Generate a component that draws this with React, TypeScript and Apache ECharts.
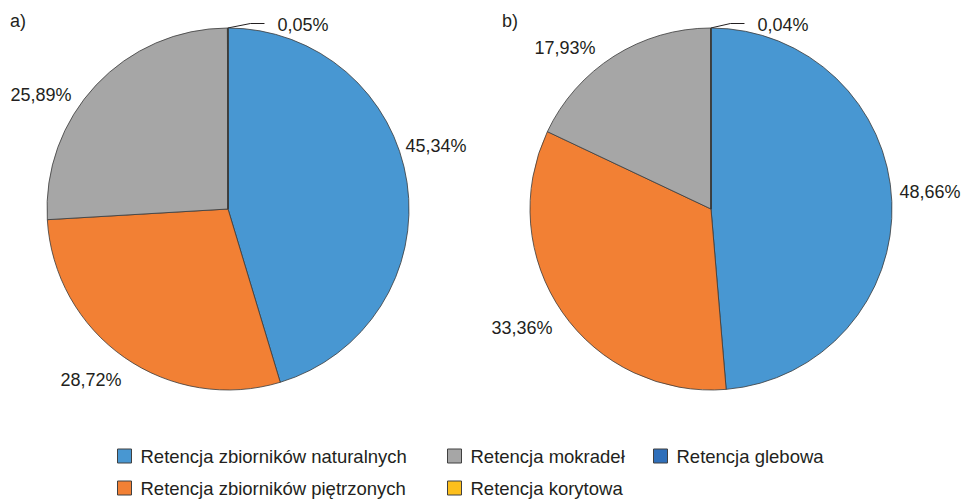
import React, { useEffect, useRef } from "react";
import * as echarts from "echarts";

const CATEGORIES = [
  "Retencja zbiorników naturalnych",
  "Retencja zbiorników piętrzonych",
  "Retencja mokradeł",
  "Retencja korytowa",
  "Retencja glebowa",
];
const VALUES_A = [45.34, 28.72, 25.89, 0.05, 0];
const VALUES_B = [48.66, 33.36, 17.93, 0.04, 0];
const PANEL_LABELS = ["a)", "b)"];
const COLORS = ["#4897d2", "#f28034", "#a6a6a6", "#fdbf1c", "#2f6fba"];

// legend columns (indexes into CATEGORIES)
const LEGEND_COLUMNS = [[0, 1], [2, 3], [4]];
const LEGEND_LEFT = [117, 447, 653];

// label centres (layout)
const LABEL_POS_A: (number[] | null)[] = [[436, 146], [91, 380], [41, 95], [303, 24.5], null];
const LABEL_POS_B: (number[] | null)[] = [[930, 192], [522, 328], [565, 48], [783, 24.5], null];

const FONT = "'Liberation Sans', Arial, sans-serif";
const TEXT_COLOR = "#231f20";

const fmt = (v: number) => v.toFixed(2).replace(".", ",") + "%";

function makeLayout(pos: (number[] | null)[]) {
  return (params: any) => {
    const p = pos[params.dataIndex];
    if (!p) return {};
    const res: any = { x: p[0], y: p[1], align: "center", verticalAlign: "middle" };
    if (params.labelLinePoints) {
      const start = params.labelLinePoints[0];
      const endX = p[0] - params.labelRect.width / 2 - 13;
      const endY = p[1] - 1;
      res.labelLinePoints = [start, [endX - 14, endY], [endX, endY]];
    }
    return res;
  };
}

function makeSeries(values: number[], center: number[], pos: (number[] | null)[]) {
  return {
    type: "pie",
    center,
    radius: 181,
    startAngle: 90,
    clockwise: true,
    avoidLabelOverlap: false,
    itemStyle: { borderColor: "#3a3a3a", borderWidth: 0.8 },
    label: {
      show: true,
      position: "outside",
      color: TEXT_COLOR,
      fontSize: 18,
      fontFamily: FONT,
      formatter: (p: any) => fmt(p.value),
    },
    labelLine: { show: false, lineStyle: { color: "#231f20", width: 1 } },
    labelLayout: makeLayout(pos),
    emphasis: { disabled: true },
    data: CATEGORIES.map((name, i) => ({
      name,
      value: values[i],
      itemStyle: { color: COLORS[i] },
      label: { show: values[i] > 0 },
      labelLine: { show: values[i] > 0 && values[i] < 1, length: 10, length2: 14 },
    })),
  };
}

export default function App() {
  const ref = useRef<HTMLDivElement>(null);
  useEffect(() => {
    if (!ref.current) return;
    const chart = echarts.init(ref.current, null, { renderer: "svg" });
    chart.setOption({
      animation: false,
      backgroundColor: "#ffffff",
      title: PANEL_LABELS.map((t, i) => ({
        text: t,
        left: i === 0 ? 10 : 502,
        top: 12,
        padding: 0,
        textStyle: { fontSize: 18, fontWeight: "normal", color: TEXT_COLOR, fontFamily: FONT, lineHeight: 18 },
      })),
      legend: LEGEND_COLUMNS.map((col, i) => ({
        orient: "vertical",
        left: LEGEND_LEFT[i],
        top: 446,
        height: 90,
        padding: 0,
        itemWidth: 14,
        itemHeight: 14,
        itemGap: 12,
        icon: "rect",
        selectedMode: false,
        data: col.map((j) => CATEGORIES[j]),
        itemStyle: { borderColor: "#404040", borderWidth: 1 },
        textStyle: { fontSize: 18.5, color: TEXT_COLOR, fontFamily: FONT, lineHeight: 20, padding: [0, 0, 0, 4] },
      })),
      series: [
        makeSeries(VALUES_A, [228, 209], LABEL_POS_A),
        makeSeries(VALUES_B, [711, 209], LABEL_POS_B),
      ],
    });
    return () => chart.dispose();
  }, []);
  return (
    <div
      ref={ref}
      style={{ position: "fixed", left: 0, top: 0, width: 964, height: 499, background: "#fff" }}
    />
  );
}
